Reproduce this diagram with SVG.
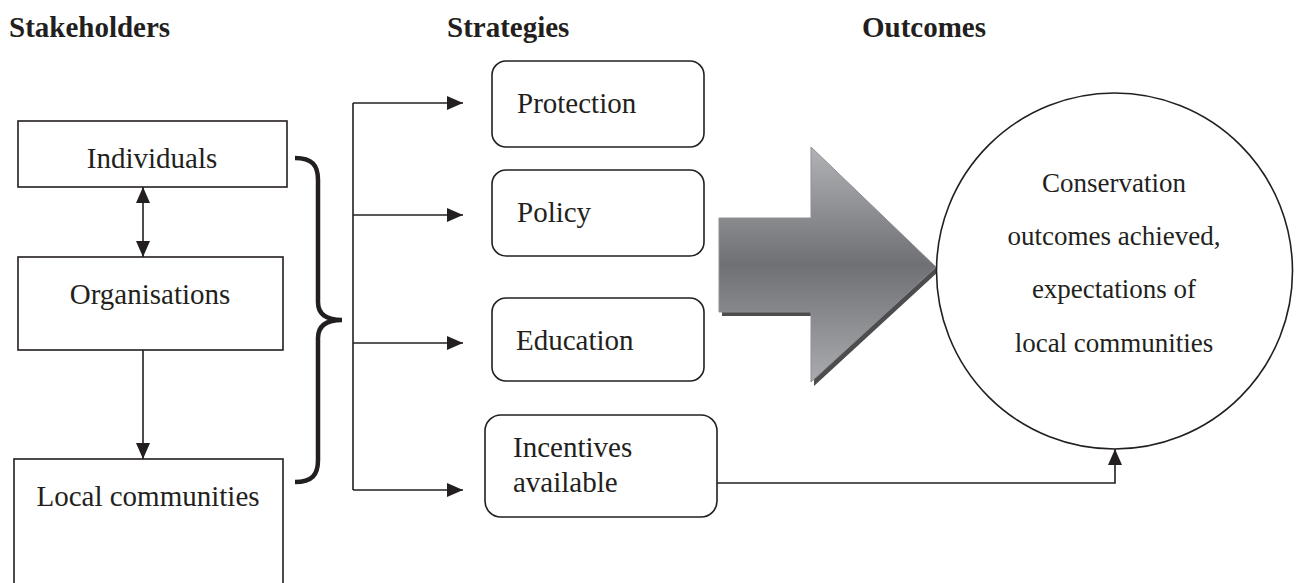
<svg xmlns="http://www.w3.org/2000/svg" width="1300" height="583" viewBox="0 0 1300 583">
  <style>
    .hdr { font-family: "Liberation Serif", "Times New Roman", serif; font-weight: bold; font-size: 29px; fill: #231f20; }
    .lbl { font-family: "Liberation Serif", "Times New Roman", serif; font-size: 29px; fill: #231f20; }
    .out { font-family: "Liberation Serif", "Times New Roman", serif; font-size: 27px; fill: #231f20; }
    .box { fill: #ffffff; stroke: #231f20; stroke-width: 1.6; }
    .line { fill: none; stroke: #231f20; stroke-width: 1.6; }
  </style>
  <defs>
    <marker id="tri" viewBox="0 0 16 14" refX="16" refY="7" markerWidth="16" markerHeight="14" markerUnits="userSpaceOnUse" orient="auto-start-reverse">
      <path d="M0,0 L16,7 L0,14 Z" fill="#231f20"/>
    </marker>
    <linearGradient id="bigArrowFill" gradientUnits="userSpaceOnUse" x1="0" y1="147" x2="0" y2="382">
      <stop offset="0" stop-color="#b2b3b6"/>
      <stop offset="0.5" stop-color="#6f7073"/>
      <stop offset="1" stop-color="#aaabae"/>
    </linearGradient>
  </defs>

  <!-- column headings -->
  <text class="hdr" x="9" y="37">Stakeholders</text>
  <text class="hdr" x="447" y="37">Strategies</text>
  <text class="hdr" x="862" y="37">Outcomes</text>

  <!-- stakeholders -->
  <g id="individuals">
    <rect class="box" x="18" y="121" width="269" height="66"/>
    <text class="lbl" x="152" y="168" text-anchor="middle">Individuals</text>
  </g>
  <g id="organisations">
    <rect class="box" x="18" y="257" width="265" height="93"/>
    <text class="lbl" x="150" y="304" text-anchor="middle">Organisations</text>
  </g>
  <g id="local-communities">
    <rect class="box" x="14" y="459" width="269" height="140"/>
    <text class="lbl" x="148" y="506" text-anchor="middle">Local communities</text>
  </g>

  <!-- strategies -->
  <g id="protection">
    <rect class="box" x="492" y="61" width="212" height="86" rx="14"/>
    <text class="lbl" x="517" y="113">Protection</text>
  </g>
  <g id="policy">
    <rect class="box" x="492" y="170" width="212" height="86" rx="14"/>
    <text class="lbl" x="517" y="222">Policy</text>
  </g>
  <g id="education">
    <rect class="box" x="492" y="298" width="212" height="83" rx="14"/>
    <text class="lbl" x="516" y="350">Education</text>
  </g>
  <g id="incentives">
    <rect class="box" x="485" y="415" width="232" height="102" rx="16"/>
    <text class="lbl" x="513" y="457">Incentives</text>
    <text class="lbl" x="513" y="492">available</text>
  </g>

  <!-- big block arrow with its drop shadow -->
  <g id="block-arrow">
    <path d="M722,222 L814,222 L814,151 L939,271 L814,386 L814,316 L722,316 Z" fill="#4d4d4f"/>
    <path d="M719,218 L811,218 L811,147 L936,267 L811,382 L811,312 L719,312 Z" fill="url(#bigArrowFill)" stroke="#8e8f92" stroke-width="1"/>
  </g>

  <!-- outcome -->
  <g id="outcome">
    <circle cx="1114.5" cy="271" r="178" fill="#ffffff" stroke="#231f20" stroke-width="1.6"/>
    <text class="out" x="1114" y="192" text-anchor="middle">Conservation</text>
    <text class="out" x="1114" y="245" text-anchor="middle">outcomes achieved,</text>
    <text class="out" x="1114" y="298" text-anchor="middle">expectations of</text>
    <text class="out" x="1114" y="352" text-anchor="middle">local communities</text>
  </g>

  <!-- connectors -->
  <g id="connectors">
    <line class="line" x1="143" y1="187" x2="143" y2="257" marker-start="url(#tri)" marker-end="url(#tri)"/>
    <line class="line" x1="143" y1="350" x2="143" y2="459" marker-end="url(#tri)"/>
    <path d="M295,158 C312,158 318,165 318,180 L318,302 C318,314 326,320 342,320 C326,320 318,326 318,338 L318,460 C318,475 312,482 295,482" fill="none" stroke="#231f20" stroke-width="4.5"/>
    <line class="line" x1="353" y1="103" x2="353" y2="490"/>
    <line class="line" x1="353" y1="103" x2="463" y2="103" marker-end="url(#tri)"/>
    <line class="line" x1="353" y1="215" x2="463" y2="215" marker-end="url(#tri)"/>
    <line class="line" x1="353" y1="343" x2="463" y2="343" marker-end="url(#tri)"/>
    <line class="line" x1="353" y1="490" x2="463" y2="490" marker-end="url(#tri)"/>
    <path class="line" d="M717,483 L1115,483 L1115,449" marker-end="url(#tri)"/>
  </g>
</svg>
